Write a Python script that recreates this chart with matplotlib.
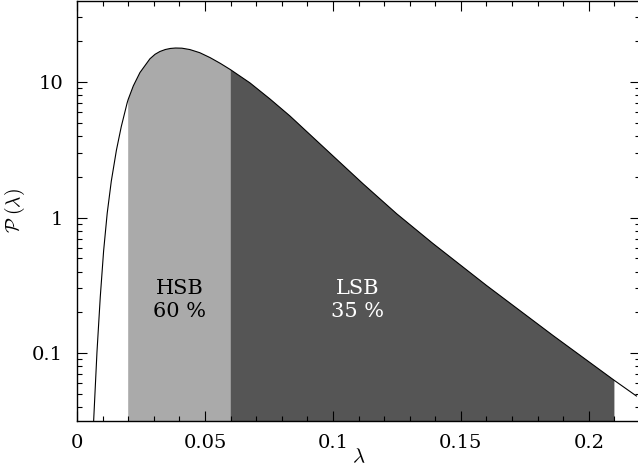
import numpy as np
import matplotlib
matplotlib.use('Agg')
import matplotlib.pyplot as plt
from matplotlib.ticker import MultipleLocator, LogLocator, NullFormatter

matplotlib.rcParams['font.family'] = 'DejaVu Serif'
matplotlib.rcParams['mathtext.fontset'] = 'cm'

# curve: spin parameter lambda and P(lambda)
lam = np.array([0.0065, 0.0078, 0.0091, 0.0104, 0.0118, 0.0134, 0.0154, 0.0173,
                0.0196, 0.0200, 0.0220, 0.0246, 0.0285, 0.0305, 0.0324, 0.0345,
                0.0365, 0.0385, 0.0410, 0.0441, 0.0480, 0.0520, 0.0560, 0.0600,
                0.0676, 0.0754, 0.0832, 0.0988, 0.1118, 0.1249, 0.1390, 0.1600,
                0.1860, 0.2100, 0.2186])
prob = np.array([0.0316, 0.1016, 0.261, 0.568, 1.076, 1.856, 3.14, 4.69,
                 7.02, 7.44, 9.36, 11.75, 14.84, 16.02, 16.80, 17.37,
                 17.69, 17.82, 17.77, 17.36, 16.45, 15.14, 13.73, 12.33,
                 9.85, 7.50, 5.62, 2.995, 1.774, 1.068, 0.646, 0.316,
                 0.135, 0.0629, 0.0483])

# galaxy classes as lambda ranges
hsb_range = (0.02, 0.06)
lsb_range = (0.06, 0.21)
hsb_label = 'HSB\n60 %'
lsb_label = 'LSB\n35 %'

fig = plt.figure(figsize=(6.38, 4.71), dpi=100)
ax = fig.add_axes([77/638, 50/471, 563/638, 420/471])

ybot = 1e-3
m1 = (lam >= hsb_range[0]) & (lam <= hsb_range[1])
m2 = (lam >= lsb_range[0]) & (lam <= lsb_range[1])
ax.fill_between(lam, ybot, prob, where=m1, color='#aaaaaa', linewidth=0, zorder=1)
ax.fill_between(lam, ybot, prob, where=m2, color='#555555', linewidth=0, zorder=1)
ax.plot(lam, prob, color='black', lw=0.8, zorder=3)

ax.text(0.0402, 0.246, hsb_label, ha='center', va='center', fontsize=15,
        color='black', linespacing=1.25, zorder=4)
ax.text(0.1098, 0.246, lsb_label, ha='center', va='center', fontsize=15,
        color='white', linespacing=1.25, zorder=4)

ax.set_yscale('log')
ax.set_xlim(0, 0.22)
ax.set_ylim(0.0316, 39.6)

ax.set_xticks([0, 0.05, 0.1, 0.15, 0.2])
ax.set_xticklabels(['0', '0.05', '0.1', '0.15', '0.2'])
ax.xaxis.set_minor_locator(MultipleLocator(0.01))
ax.set_yticks([0.1, 1, 10])
ax.set_yticklabels(['0.1', '1', '10'])
ax.yaxis.set_minor_locator(LogLocator(base=10, subs=np.arange(2, 10)))
ax.yaxis.set_minor_formatter(NullFormatter())

ax.tick_params(which='both', direction='in', top=True, right=True, labelsize=14)
ax.tick_params(which='major', length=7.5, width=0.8)
ax.tick_params(which='minor', length=3.5, width=0.8)
ax.tick_params(axis='x', pad=9)
ax.tick_params(axis='y', pad=10)
for s in ax.spines.values():
    s.set_linewidth(1.0)

ax.set_xlabel(r'$\lambda$', fontsize=15, labelpad=-3)
ax.set_ylabel(r'$\mathcal{P}\;(\lambda)$', fontsize=14, labelpad=4)

fig.savefig('out.png', dpi=100)
